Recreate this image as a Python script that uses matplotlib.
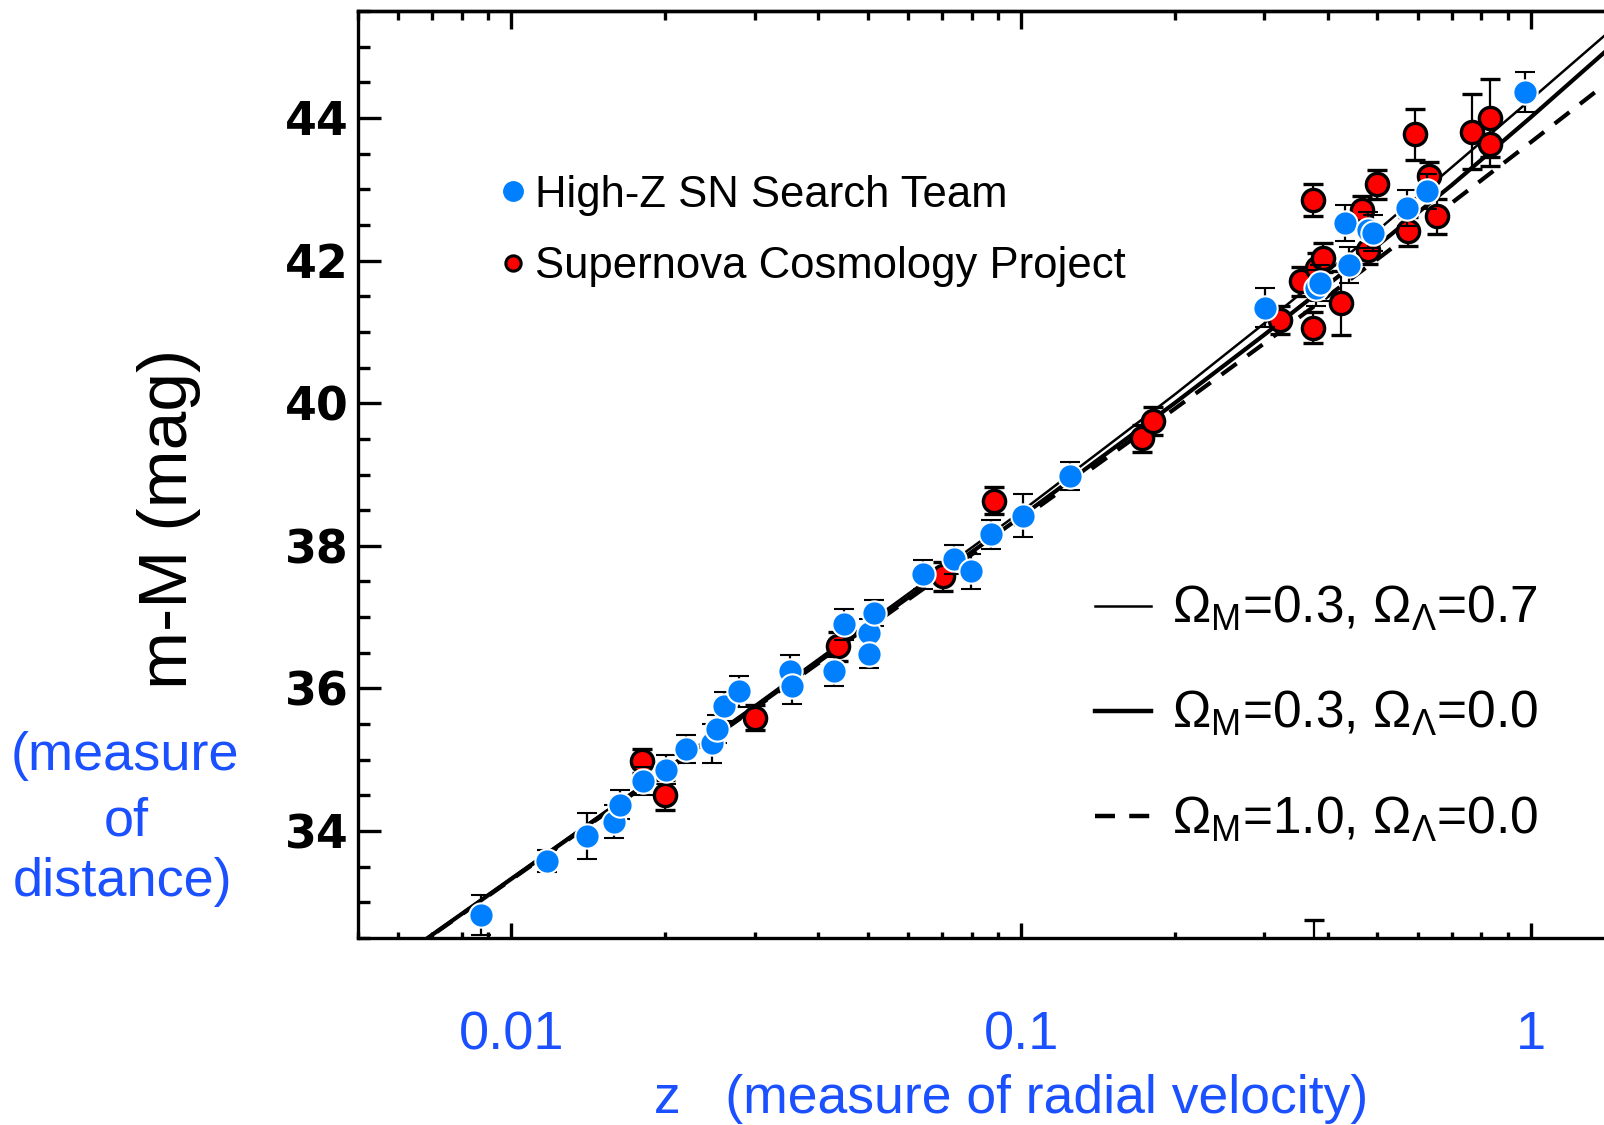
import numpy as np
import matplotlib
matplotlib.use('Agg')
import matplotlib.pyplot as plt
from matplotlib.ticker import MultipleLocator, LogLocator, FixedLocator, NullFormatter
from matplotlib.lines import Line2D

plt.rcParams['mathtext.fontset'] = 'custom'
plt.rcParams['mathtext.rm'] = 'Liberation Sans'
plt.rcParams['mathtext.it'] = 'Liberation Sans:italic'
plt.rcParams['mathtext.bf'] = 'Liberation Sans:bold'

# ---------------- data ----------------
# High-Z SN Search Team
blue_z = [0.0087, 0.01175, 0.01408, 0.01589, 0.0163, 0.01813, 0.02007, 0.02204,
          0.02477, 0.0253, 0.02612, 0.02797, 0.03522, 0.0355, 0.04298, 0.04483,
          0.05018, 0.05018, 0.0515, 0.0641, 0.0740, 0.0797, 0.0873, 0.1010,
          0.1245, 0.3006, 0.3797, 0.385, 0.440, 0.4317, 0.480, 0.490, 0.5707,
          0.6247, 0.9745]
blue_m = [32.82, 33.58, 33.93, 34.13, 34.37, 34.70, 34.86, 35.15,
          35.23, 35.43, 35.75, 35.96, 36.24, 36.03, 36.24, 36.90,
          36.78, 36.48, 37.06, 37.60, 37.81, 37.64, 38.16, 38.42,
          38.98, 41.34, 41.62, 41.69, 41.94, 42.53, 42.43, 42.39, 42.74,
          42.97, 44.37]
blue_err = [0.28, 0.15, 0.32, 0.23, 0.20, 0.20, 0.20, 0.20,
            0.27, 0.20, 0.20, 0.22, 0.23, 0.25, 0.20, 0.22,
            0.20, 0.20, 0.18, 0.20, 0.20, 0.24, 0.20, 0.30,
            0.20, 0.27, 0.25, 0.25, 0.25, 0.25, 0.25, 0.25, 0.25,
            0.25, 0.28]

# Supernova Cosmology Project
red_z = [0.0180, 0.0200, 0.03006, 0.0437, 0.0701, 0.0884, 0.1729, 0.1814,
         0.3217, 0.3548, 0.374, 0.374, 0.380, 0.3913, 0.425, 0.4657, 0.480,
         0.498, 0.575, 0.5925, 0.630, 0.6534, 0.766, 0.832, 0.832, 0.376]
red_m = [34.98, 34.51, 35.59, 36.59, 37.57, 38.63, 39.51, 39.75,
         41.17, 41.71, 41.06, 42.85, 41.90, 42.04, 41.41, 42.71, 42.15,
         43.07, 42.41, 43.77, 43.18, 42.62, 43.81, 44.00, 43.63, 32.20]
red_err = [0.17, 0.21, 0.18, 0.20, 0.20, 0.19, 0.19, 0.19,
           0.20, 0.20, 0.22, 0.22, 0.20, 0.20, 0.45, 0.20, 0.20,
           0.20, 0.20, 0.36, 0.20, 0.25, 0.52, 0.55, 0.30, 0.55]

# model curves (distance modulus vs z)
z_model = [0.005, 0.01, 0.03, 0.1, 0.2, 0.3, 0.5, 0.7, 1.0, 1.5]
mu_m03_l07 = [31.81, 33.34, 35.76, 38.48, 40.12, 41.12, 42.42, 43.31, 44.26, 45.35]
mu_m03_l00 = [31.81, 33.33, 35.73, 38.41, 40.00, 40.96, 42.21, 43.06, 44.01, 45.12]
mu_m10_l00 = [31.81, 33.32, 35.72, 38.37, 39.92, 40.84, 42.02, 42.81, 43.66, 44.64]

x_ticks = [0.01, 0.1, 1]
x_tick_labels = ['0.01', '0.1', '1']
y_ticks = [34, 36, 38, 40, 42, 44]
y_tick_labels = ['34', '36', '38', '40', '42', '44']

model_labels = ['Ω$_\\mathrm{M}$=0.3, Ω$_\\mathrm{Λ}$=0.7',
                'Ω$_\\mathrm{M}$=0.3, Ω$_\\mathrm{Λ}$=0.0',
                'Ω$_\\mathrm{M}$=1.0, Ω$_\\mathrm{Λ}$=0.0']
series_labels = ['High-Z SN Search Team', 'Supernova Cosmology Project']

# ---------------- styling ----------------
BLUE_PT = '#0080FF'
RED_PT = '#FF0000'
BLUE_TXT = '#1A50FF'

W, H = 1604, 1125
fig = plt.figure(figsize=(W / 100, H / 100), dpi=100)
fig.patch.set_facecolor('white')


def fx(px):
    return px / W


def fy(py):
    return 1 - py / H


ax = fig.add_axes([fx(358), fy(938), fx(1620.6) - fx(358), fy(11) - fy(938)])
ax.set_xscale('log')
ax.set_xlim(0.005, 1.5)
ax.set_ylim(32.5, 45.5)

dash = (0, (4.5, 3.2))
ax.plot(z_model, mu_m03_l07, color='k', lw=1.8, zorder=1)
ax.plot(z_model, mu_m03_l00, color='k', lw=3.0, zorder=1)
ax.plot(z_model, mu_m10_l00, color='k', lw=3.0, ls=dash, zorder=1)

ax.errorbar(red_z, red_m, yerr=red_err, fmt='o', ms=16, mfc=RED_PT, mec='k',
            mew=2.4, ecolor='k', elinewidth=1.6, capsize=7, capthick=2, zorder=3)
ax.errorbar(blue_z, blue_m, yerr=blue_err, fmt='o', ms=17.5, mfc=BLUE_PT,
            mec='white', mew=1.5, ecolor='k', elinewidth=1.6, capsize=7,
            capthick=2, zorder=4)

# axes styling
for s in ['left', 'bottom', 'top']:
    ax.spines[s].set_linewidth(2.4)
ax.spines['right'].set_visible(False)

ax.set_yticks(y_ticks, labels=y_tick_labels, fontfamily='DejaVu Sans',
              fontweight='bold', fontsize=33)
ax.yaxis.set_minor_locator(MultipleLocator(0.5))
ax.tick_params(axis='y', which='major', direction='in', length=16.5, width=2.4,
               left=True, right=False, pad=6.5)
ax.tick_params(axis='y', which='minor', direction='in', length=8.6, width=2.4,
               left=True, right=False)

ax.set_xticks(x_ticks, labels=x_tick_labels, fontfamily='Liberation Sans',
              fontsize=39, color=BLUE_TXT)
ax.xaxis.set_minor_locator(LogLocator(base=10, subs=np.arange(2, 10)))
ax.xaxis.set_minor_formatter(NullFormatter())
ax.tick_params(axis='x', which='major', direction='in', length=11, width=2.4,
               top=False, pad=52)
ax.tick_params(axis='x', which='minor', direction='in', length=4.2, width=2.4,
               top=False)

sec = ax.secondary_xaxis('top')
sec.set_xticks(x_ticks, labels=['', '', ''])
sec.xaxis.set_minor_locator(LogLocator(base=10, subs=np.arange(2, 10)))
sec.xaxis.set_minor_formatter(NullFormatter())
sec.tick_params(which='major', direction='in', length=13, width=2.4)
sec.tick_params(which='minor', direction='in', length=6.5, width=2.4)
sec.spines['top'].set_linewidth(2.4)

# series legend (dots)
fig.add_artist(Line2D([fx(512.5)], [fy(191.3)], marker='o', ms=14, mfc=BLUE_PT,
                      mec=BLUE_PT, ls='none'))
fig.add_artist(Line2D([fx(512.5)], [fy(262.9)], marker='o', ms=11, mfc=RED_PT,
                      mec='k', mew=2.2, ls='none'))
fig.text(fx(535), fy(206.6), series_labels[0], fontsize=31.4,
         family='Liberation Sans', va='baseline', ha='left')
fig.text(fx(535), fy(278), series_labels[1], fontsize=31.4,
         family='Liberation Sans', va='baseline', ha='left')

# model legend
ly = [605.6, 711, 816]
lbase = [623, 728, 834]
styles = [dict(lw=1.8), dict(lw=3.2), dict(lw=3.2, ls=dash)]
for y, yb, st, lab in zip(ly, lbase, styles, model_labels):
    fig.add_artist(Line2D([fx(1094.6), fx(1151)], [fy(y), fy(y)], color='k', **st))
    fig.text(fx(1172), fy(yb), lab, fontsize=37, family='Liberation Sans',
             va='baseline', ha='left')

# axis labels
fig.text(fx(169), fy(519), 'm-M (mag)', rotation=90, fontsize=50,
         family='Liberation Sans', ha='center', va='center')
for txt, xc, yb in [('(measure', 125, 770), ('of', 126, 835), ('distance)', 122.5, 896)]:
    fig.text(fx(xc), fy(yb), txt, fontsize=39, family='Liberation Sans',
             color=BLUE_TXT, ha='center', va='baseline')
fig.text(fx(654), fy(1113), 'z   (measure of radial velocity)', fontsize=38.5,
         family='Liberation Sans', color=BLUE_TXT, ha='left', va='baseline')

fig.savefig('out.png', dpi=100, facecolor='white')
